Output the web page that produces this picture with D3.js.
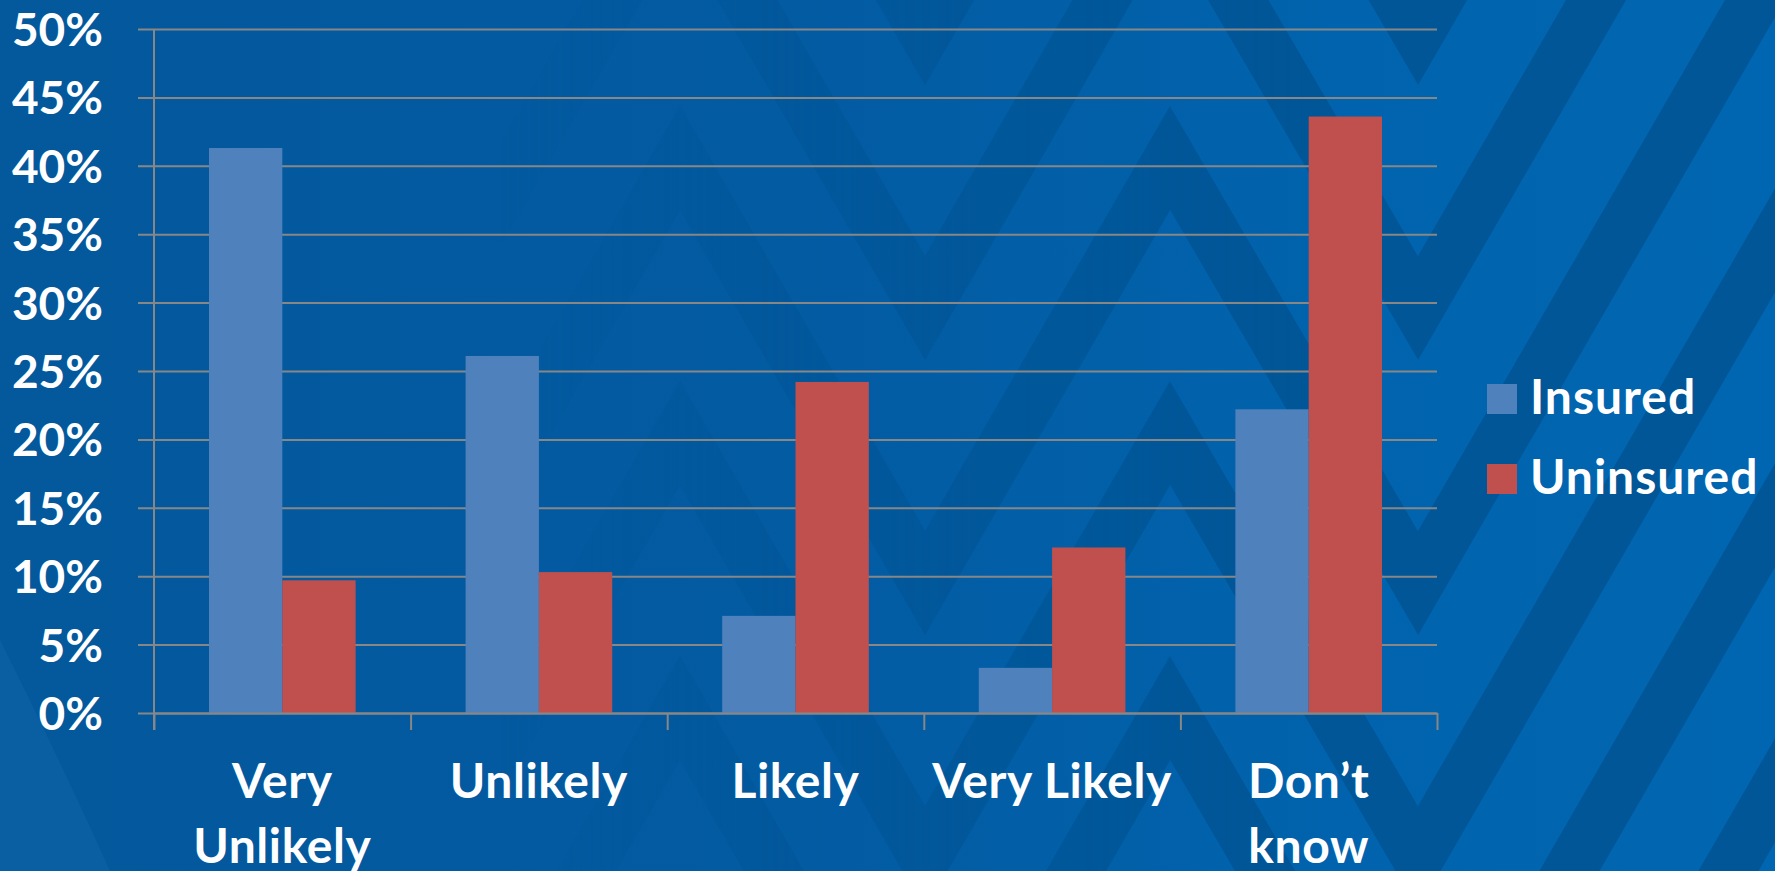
<!DOCTYPE html>
<html>
<head>
<meta charset="utf-8">
<script src="https://cdn.jsdelivr.net/npm/d3@7"></script>
<style>
  html, body { margin: 0; padding: 0; background: #04599e; }
  svg { display: block; }
</style>
</head>
<body>
<svg id="chart" width="1775" height="871"></svg>
<script>
// ---- data ----
const categories = ["Very Unlikely", "Unlikely", "Likely", "Very Likely", "Don’t know"];
const categoryLines = [["Very", "Unlikely"], ["Unlikely"], ["Likely"], ["Very Likely"], ["Don’t", "know"]];
const seriesNames = ["Insured", "Uninsured"];
const insured = [41.3, 26.1, 7.1, 3.3, 22.2];
const uninsured = [9.7, 10.3, 24.2, 12.1, 43.6];
const yTicks = [0, 5, 10, 15, 20, 25, 30, 35, 40, 45, 50];

// ---- layout ----
const W = 1775, H = 871;
const plot = { left: 154, right: 1437, top: 29, bottom: 713 };
const colors = { Insured: "#4f81bd", Uninsured: "#c0504d" };
const gridColor = "#878787";
const FONT = "Lato, 'Open Sans', sans-serif";

const svg = d3.select("#chart");
const defs = svg.append("defs");

// background
const bg = defs.append("linearGradient").attr("id", "bgGrad")
  .attr("gradientUnits", "userSpaceOnUse").attr("x1", 0).attr("y1", 0).attr("x2", W).attr("y2", 0);
bg.append("stop").attr("offset", 0).attr("stop-color", "#04589c");
bg.append("stop").attr("offset", 0.45).attr("stop-color", "#035ba2");
bg.append("stop").attr("offset", 0.75).attr("stop-color", "#0163ad");
bg.append("stop").attr("offset", 1).attr("stop-color", "#0166b1");
svg.append("rect").attr("width", W).attr("height", H).attr("fill", "url(#bgGrad)");

// fade mask for decorative chevrons
const mg = defs.append("linearGradient").attr("id", "fadeGrad")
  .attr("gradientUnits", "userSpaceOnUse").attr("x1", 0).attr("y1", 0).attr("x2", W).attr("y2", 0);
mg.append("stop").attr("offset", 500 / W).attr("stop-color", "#000");
mg.append("stop").attr("offset", 900 / W).attr("stop-color", "#999");
mg.append("stop").attr("offset", 1300 / W).attr("stop-color", "#fff");
defs.append("mask").attr("id", "fadeMask")
  .append("rect").attr("width", W).attr("height", H).attr("fill", "url(#fadeGrad)");

const deco = svg.append("g").attr("mask", "url(#fadeMask)");
const zigX = [190, 435, 680, 925, 1170, 1418];
const zigLine = d3.line();
for (let k = -2; k <= 5; k++) {
  const vy = 33 + 275 * k;
  const pts = zigX.map((x, i) => [x, (i % 2 === 1) ? vy : vy - 425]);
  pts.push([1418 + 600, vy - 600 * 1.73]); // long rising stripe to the right edge
  deco.append("path").attr("d", zigLine(pts))
    .attr("fill", "none").attr("stroke", "#00518f").attr("stroke-opacity", 0.75)
    .attr("stroke-width", 52).attr("stroke-linejoin", "miter").attr("stroke-miterlimit", 10);
}
// soft light sweep at lower-left corner
svg.append("path")
  .attr("d", "M0,640 Q60,760 110,871 L0,871 Z")
  .attr("fill", "#1a6cb0").attr("opacity", 0.3);

// ---- scales ----
const x = d3.scaleBand().domain(categories).range([plot.left, plot.right]).paddingInner(0).paddingOuter(0);
const xs = d3.scaleBand().domain(seriesNames).range([0, x.bandwidth()]).paddingInner(0).paddingOuter(0.75);
const y = d3.scaleLinear().domain([0, 50]).range([plot.bottom, plot.top]);
const xEdge = d3.scaleLinear().domain([0, categories.length]).range([plot.left, plot.right]);

// ---- y axis + gridlines ----
const yAxis = d3.axisLeft(y).tickValues(yTicks).tickFormat(d => d + "%")
  .tickSizeInner(plot.right - 138).tickSizeOuter(0).tickPadding(35);
const gy = svg.append("g").attr("transform", `translate(${plot.right},0)`).call(yAxis);
gy.select(".domain").remove();
gy.selectAll(".tick line").attr("stroke", gridColor).attr("stroke-width", 2);
gy.selectAll(".tick text").attr("fill", "#fff").attr("font-family", FONT)
  .attr("font-weight", 700).attr("font-size", 46).attr("dy", "0.36em");

// ---- bars ----
const rows = categories.map((c, i) => ({ c, vals: [{ s: "Insured", v: insured[i] }, { s: "Uninsured", v: uninsured[i] }] }));
const gBars = svg.append("g");
gBars.selectAll("g").data(rows).join("g")
  .attr("transform", d => `translate(${x(d.c)},0)`)
  .selectAll("rect").data(d => d.vals).join("rect")
  .attr("x", d => xs(d.s)).attr("width", xs.bandwidth())
  .attr("y", d => y(d.v)).attr("height", d => y(0) - y(d.v))
  .attr("fill", d => colors[d.s]);

// ---- axes lines ----
svg.append("line").attr("x1", plot.left).attr("x2", plot.left).attr("y1", plot.top).attr("y2", plot.bottom + 17)
  .attr("stroke", gridColor).attr("stroke-width", 2);
const xAxis = d3.axisBottom(xEdge).tickValues(d3.range(categories.length + 1)).tickFormat("")
  .tickSizeInner(17).tickSizeOuter(0);
const gx = svg.append("g").attr("transform", `translate(0,${plot.bottom})`).call(xAxis);
gx.select(".domain").attr("stroke", gridColor).attr("stroke-width", 2);
gx.selectAll(".tick line").attr("stroke", gridColor).attr("stroke-width", 2);

// ---- category labels ----
const gl = svg.append("g");
categories.forEach((c, i) => {
  const t = gl.append("text").attr("x", x(c) + x.bandwidth() / 2).attr("y", 798)
    .attr("text-anchor", "middle").attr("fill", "#fff").attr("font-family", FONT)
    .attr("font-weight", 700).attr("font-size", 48).attr("letter-spacing", 0.6);
  categoryLines[i].forEach((line, j) => {
    t.append("tspan").attr("x", x(c) + x.bandwidth() / 2).attr("dy", j === 0 ? 0 : 65).text(line);
  });
});

// ---- legend ----
const legend = svg.append("g");
seriesNames.forEach((s, i) => {
  const gy0 = 384 + i * 80;
  legend.append("rect").attr("x", 1487).attr("y", gy0).attr("width", 30).attr("height", 30).attr("fill", colors[s]);
  legend.append("text").attr("x", 1530).attr("y", gy0 + 30).attr("fill", "#fff")
    .attr("font-family", FONT).attr("font-weight", 700).attr("font-size", 48)
    .attr("letter-spacing", 1).text(s);
});
</script>
</body>
</html>
